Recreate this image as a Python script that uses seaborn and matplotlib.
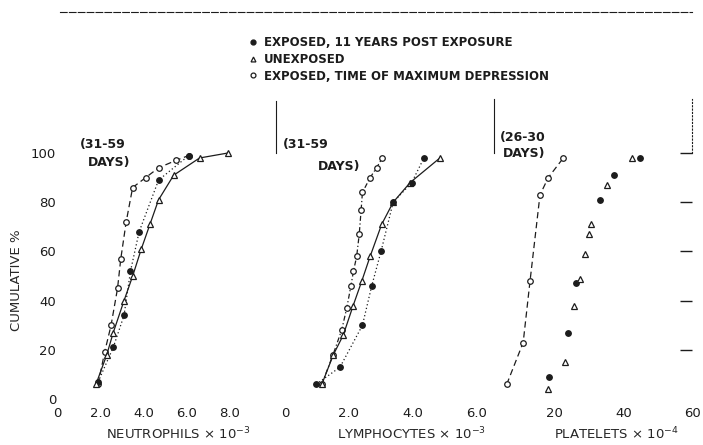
import matplotlib
matplotlib.use("Agg")
import matplotlib.pyplot as plt
from matplotlib.lines import Line2D
import seaborn as sns

# values (x = count, y = cumulative %)
neut_exp_x = [1.9, 2.6, 3.1, 3.4, 3.8, 4.7, 6.1]
neut_exp_y = [7, 21, 34, 52, 68, 89, 99]
neut_unexp_x = [1.8, 2.3, 2.6, 3.1, 3.5, 3.9, 4.3, 4.7, 5.4, 6.6, 7.9]
neut_unexp_y = [6, 18, 27, 40, 50, 61, 71, 81, 91, 98, 100]
neut_dep_x = [1.9, 2.2, 2.5, 2.8, 2.95, 3.2, 3.5, 4.1, 4.7, 5.5, 6.1]
neut_dep_y = [6, 19, 30, 45, 57, 72, 86, 90, 94, 97, 99]

lymph_exp_x = [0.97, 1.72, 2.42, 2.71, 3.0, 3.38, 3.96, 4.34]
lymph_exp_y = [6, 13, 30, 46, 60, 80, 88, 98]
lymph_unexp_x = [1.15, 1.51, 1.82, 2.13, 2.40, 2.66, 3.02, 3.38, 3.91, 4.84]
lymph_unexp_y = [6, 18, 26, 38, 48, 58, 71, 80, 88, 98]
lymph_dep_x = [1.15, 1.5, 1.77, 1.93, 2.06, 2.14, 2.24, 2.32, 2.38, 2.42, 2.66, 2.86, 3.04]
lymph_dep_y = [6, 18, 28, 37, 46, 52, 58, 67, 77, 84, 90, 94, 98]

plat_exp_x = [18.4, 23.9, 26.2, 33.1, 37.2, 44.8]
plat_exp_y = [9, 27, 47, 81, 91, 98]
plat_unexp_x = [18.1, 23.0, 25.6, 27.3, 28.8, 30.0, 30.7, 35.3, 42.6]
plat_unexp_y = [4, 15, 38, 49, 59, 67, 71, 87, 98]
plat_dep_x = [6.0, 10.8, 12.8, 15.7, 18.1, 22.5]
plat_dep_y = [6, 23, 48, 83, 90, 98]

y_ticks = [0, 20, 40, 60, 80, 100]
neut_ticks = [0, 2, 4, 6, 8]
neut_labels = ["0", "2.0", "4.0", "6.0", "8.0"]
lymph_ticks = [0, 2, 4, 6]
lymph_labels = ["0", "2.0", "4.0", "6.0"]
plat_ticks = [20, 40, 60]
plat_labels = ["20", "40", "60"]

legend_labels = ["EXPOSED, 11 YEARS POST EXPOSURE",
                 "UNEXPOSED",
                 "EXPOSED, TIME OF MAXIMUM DEPRESSION"]

INK = "#1c1c1c"
DOTTED = (0, (1, 2))
DASHED = (0, (5, 3))

sns.set_style("white")
plt.rcParams["font.family"] = ["DejaVu Sans"]
plt.rcParams["text.color"] = INK
plt.rcParams["xtick.color"] = INK
plt.rcParams["ytick.color"] = INK


def draw(ax, xs, ys, marker, ls, filled):
    sns.lineplot(x=xs, y=ys, ax=ax, sort=False, estimator=None,
                 color=INK, linewidth=0.9, linestyle=ls, marker=marker,
                 markersize=4, markeredgewidth=0.9, markeredgecolor=INK,
                 markerfacecolor=INK if filled else "white")


fig = plt.figure(figsize=(7.03, 4.45), dpi=100)
ax1 = fig.add_axes([0.064, 0.092, 0.3286, 0.8809])
ax2 = fig.add_axes([0.3926, 0.092, 0.3101, 0.8809])
ax3 = fig.add_axes([0.7027, 0.092, 0.2817, 0.8809])

# neutrophils
draw(ax1, neut_dep_x, neut_dep_y, "o", DASHED, False)
draw(ax1, neut_exp_x, neut_exp_y, "o", DOTTED, True)
draw(ax1, neut_unexp_x, neut_unexp_y, "^", "-", False)

# lymphocytes
draw(ax2, lymph_dep_x, lymph_dep_y, "o", (0, (4, 2, 1, 2)), False)
draw(ax2, lymph_unexp_x, lymph_unexp_y, "^", "-", False)
draw(ax2, lymph_exp_x, lymph_exp_y, "o", DOTTED, True)

# platelets
draw(ax3, plat_dep_x, plat_dep_y, "o", DASHED, False)
draw(ax3, plat_exp_x, plat_exp_y, "o", "", True)
draw(ax3, plat_unexp_x, plat_unexp_y, "^", "", False)

for ax in (ax1, ax2, ax3):
    ax.set_ylim(-2, 157.3)
    ax.set_xlabel("")
    ax.set_ylabel("")
    ax.spines["bottom"].set_visible(False)
    ax.spines["right"].set_visible(False)
    ax.spines["top"].set_linestyle((0, (6, 2)))
    ax.spines["top"].set_linewidth(0.8)
    ax.spines["top"].set_color(INK)
    ax.tick_params(axis="x", direction="in", length=2.5, width=0.8,
                   pad=2, labelsize=9.5)
    ax.patch.set_alpha(0)

ax1.set_xlim(-0.56, 10.14)
ax2.set_xlim(-0.28, 6.53)
ax3.set_xlim(2.3, 60)

ax1.set_xticks(neut_ticks, neut_labels)
ax2.set_xticks(lymph_ticks, lymph_labels)
ax3.set_xticks(plat_ticks, plat_labels)

# y axis of first panel: ticks sit to the right of the labels
ax1.set_yticks(y_ticks, [str(v) for v in y_ticks])
ax1.spines["left"].set_position(("data", 0.6))
ax1.spines["left"].set_visible(False)
ax1.tick_params(axis="y", direction="out", length=8.5, width=1,
                pad=1.5, labelsize=9.5)
ax1.spines["top"].set_bounds(0.14, 10.14)

ax2.set_yticks([])
ax2.spines["left"].set_bounds(100, 121)
ax2.spines["left"].set_linewidth(0.8)
ax2.spines["left"].set_color(INK)

ax3.set_yticks(y_ticks[1:])
ax3.yaxis.set_ticks_position("right")
ax3.tick_params(axis="y", direction="in", length=9, width=1,
                labelright=False, labelleft=False)
ax3.spines["left"].set_bounds(100, 122)
ax3.spines["left"].set_linewidth(0.8)
ax3.spines["left"].set_color(INK)
ax3.spines["right"].set_visible(True)
ax3.spines["right"].set_bounds(100, 122)
ax3.spines["right"].set_linestyle(DOTTED)
ax3.spines["right"].set_linewidth(0.8)
ax3.spines["right"].set_color(INK)

ax1.set_ylabel("CUMULATIVE %", fontsize=9.5)
ax1.yaxis.set_label_coords(-0.095, 0.316)
ax1.set_xlabel("NEUTROPHILS \u00d7 10$^{-3}$", fontsize=9.5)
ax1.xaxis.set_label_coords(0.576, -0.056)
ax2.set_xlabel("LYMPHOCYTES \u00d7 10$^{-3}$", fontsize=9.5)
ax2.xaxis.set_label_coords(0.62, -0.056)
ax3.set_xlabel("PLATELETS \u00d7 10$^{-4}$", fontsize=9.5)
ax3.xaxis.set_label_coords(0.62, -0.056)

note = dict(fontsize=9, fontweight="bold", va="center", ha="left")
ax1.text(0.152, 0.661, "(31-59", transform=ax1.transAxes, **note)
ax1.text(0.186, 0.615, "DAYS)", transform=ax1.transAxes, **note)
ax2.text(0.032, 0.661, "(31-59", transform=ax2.transAxes, **note)
ax2.text(0.193, 0.605, "DAYS)", transform=ax2.transAxes, **note)
ax3.text(0.030, 0.679, "(26-30", transform=ax3.transAxes, **note)
ax3.text(0.045, 0.640, "DAYS)", transform=ax3.transAxes, **note)

handles = [
    Line2D([], [], ls="", marker="o", ms=3.5, mfc=INK, mec=INK),
    Line2D([], [], ls="", marker="^", ms=3.5, mfc="white", mec=INK, mew=0.9),
    Line2D([], [], ls="", marker="o", ms=3.5, mfc="white", mec=INK, mew=0.9),
]
fig.legend(handles, legend_labels, loc="upper left",
           bbox_to_anchor=(0.355, 0.918), frameon=False,
           borderpad=0, borderaxespad=0, handlelength=0.6,
           handletextpad=0.6, labelspacing=0.3,
           prop={"weight": "bold", "size": 8.5})

fig.savefig("out.png", dpi=100)
